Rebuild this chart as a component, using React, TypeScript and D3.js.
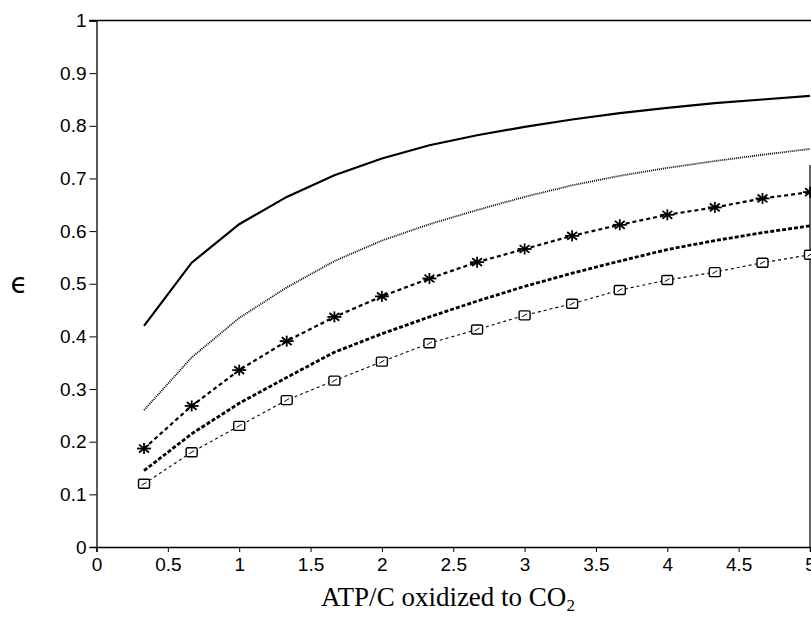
import * as React from 'react';
import * as d3 from 'd3';

// x values: ATP per C oxidized, in steps of 1/3
const atpPerC = [0.333, 0.667, 1, 1.333, 1.667, 2, 2.333, 2.667, 3, 3.333, 3.667, 4, 4.333, 4.667, 5];

const solidCurve = [0.42, 0.54, 0.613, 0.665, 0.706, 0.738, 0.763, 0.782, 0.798, 0.812, 0.824, 0.834, 0.843, 0.85, 0.857];
const dottedCurve = [0.26, 0.36, 0.435, 0.493, 0.543, 0.582, 0.613, 0.64, 0.665, 0.687, 0.705, 0.72, 0.733, 0.745, 0.756];
const starCurve = [0.187, 0.268, 0.336, 0.391, 0.437, 0.476, 0.51, 0.541, 0.566, 0.591, 0.612, 0.631, 0.645, 0.662, 0.674];
const dashedCurve = [0.145, 0.215, 0.273, 0.322, 0.37, 0.405, 0.437, 0.467, 0.495, 0.52, 0.543, 0.565, 0.582, 0.597, 0.61];
const squareCurve = [0.12, 0.18, 0.23, 0.279, 0.316, 0.352, 0.387, 0.413, 0.44, 0.462, 0.488, 0.507, 0.522, 0.54, 0.555];

const xTicks = [0, 0.5, 1, 1.5, 2, 2.5, 3, 3.5, 4, 4.5, 5];
const yTicks = [0, 0.1, 0.2, 0.3, 0.4, 0.5, 0.6, 0.7, 0.8, 0.9, 1];

const W = 811;
const H = 627;

export default function App() {
  const ref = React.useRef<SVGSVGElement>(null);

  React.useEffect(() => {
    const svg = d3.select(ref.current);
    svg.selectAll('*').remove();

    const x = d3.scaleLinear().domain([0, 5]).range([96.5, 810]);
    const y = d3.scaleLinear().domain([0, 1]).range([547, 20.5]);

    const tickFont = "'Liberation Sans', Arial, sans-serif";

    // frame: top line and right edge (right edge only partly visible in original)
    svg.append('line').attr('x1', 89).attr('x2', 811).attr('y1', y(1)).attr('y2', y(1))
      .attr('stroke', '#000').attr('stroke-width', 1.6);
    svg.append('line').attr('x1', 810).attr('x2', 810).attr('y1', 165).attr('y2', y(0))
      .attr('stroke', '#000').attr('stroke-width', 1.2);

    const yAxis = d3.axisLeft(y).tickValues(yTicks).tickFormat(d => d3.format('')(d as number)).tickSize(7).tickPadding(3);
    const gy = svg.append('g').attr('transform', `translate(${x(0)},0)`).call(yAxis);
    gy.attr('font-family', tickFont).style('font-size', '19px');
    gy.select('.domain').attr('stroke-width', 1.3);
    gy.selectAll('text').attr('fill', '#000');

    const xAxis = d3.axisBottom(x).tickValues(xTicks).tickFormat(d => d3.format('')(d as number)).tickSize(5).tickPadding(6);
    const gx = svg.append('g').attr('transform', `translate(0,${y(0)})`).call(xAxis);
    gx.attr('font-family', tickFont).style('font-size', '19px');
    gx.select('.domain').attr('stroke-width', 1.5);
    gx.selectAll('text').attr('fill', '#000');

    const line = d3.line<number>().x((_, i) => x(atpPerC[i])).y(d => y(d));

    const series = [
      { data: solidCurve, width: 2.2, dash: null },
      { data: dottedCurve, width: 1.8, dash: '1,1' },
      { data: starCurve, width: 2.2, dash: '4,3' },
      { data: dashedCurve, width: 2.8, dash: '4,2' },
      { data: squareCurve, width: 1.1, dash: '3,3' },
    ];
    series.forEach(s => {
      const p = svg.append('path').attr('d', line(s.data)).attr('fill', 'none')
        .attr('stroke', '#000').attr('stroke-width', s.width);
      if (s.dash) p.attr('stroke-dasharray', s.dash);
    });

    // asterisk markers
    const stars = svg.append('g');
    starCurve.forEach((v, i) => {
      const cx = x(atpPerC[i]);
      const cy = y(v);
      const g = stars.append('g').attr('transform', `translate(${cx},${cy})`);
      [0, 45, 90, 135].forEach(a => {
        const r = (a * Math.PI) / 180;
        const dx = Math.cos(r) * 7;
        const dy = Math.sin(r) * 5.5;
        g.append('line').attr('x1', -dx).attr('y1', -dy).attr('x2', dx).attr('y2', dy)
          .attr('stroke', '#000').attr('stroke-width', 1.8);
      });
    });

    // square markers
    const squares = svg.append('g');
    squareCurve.forEach((v, i) => {
      const cx = x(atpPerC[i]);
      const cy = y(v);
      const g = squares.append('g').attr('transform', `translate(${cx},${cy})`);
      g.append('rect').attr('x', -5.5).attr('y', -4.5).attr('width', 11).attr('height', 9).attr('rx', 1.5)
        .attr('fill', '#fff').attr('stroke', '#000').attr('stroke-width', 1.4);
      g.append('line').attr('x1', -2.5).attr('y1', 1.5).attr('x2', 2.5).attr('y2', -1.5)
        .attr('stroke', '#000').attr('stroke-width', 1);
    });

    // axis titles
    svg.append('text').attr('x', 19).attr('y', 293).attr('text-anchor', 'middle')
      .attr('font-family', "'DejaVu Sans', sans-serif").attr('font-size', 28).text('ϵ');

    const xl = svg.append('text').attr('x', 448).attr('y', 606).attr('text-anchor', 'middle')
      .attr('font-family', "'Liberation Serif', 'Times New Roman', serif").attr('font-size', 27);
    xl.append('tspan').text('ATP/C oxidized to CO');
    xl.append('tspan').attr('font-size', 17).attr('dy', 5).text('2');
  }, []);

  return (
    <svg ref={ref} width={W} height={H} style={{ position: 'absolute', left: 0, top: 0, background: '#fff' }} />
  );
}
